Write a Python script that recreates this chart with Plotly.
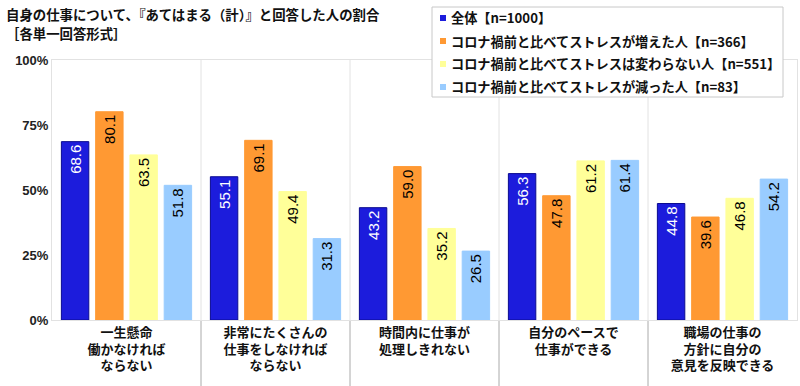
import plotly.graph_objects as go

categories = ["一生懸命<br>働かなければ<br>ならない", "非常にたくさんの<br>仕事をしなければ<br>ならない",
              "時間内に仕事が<br>処理しきれない", "自分のペースで<br>仕事ができる", "職場の仕事の<br>方針に自分の<br>意見を反映できる"]
series_names = ["全体【n=1000】", "コロナ禍前と比べてストレスが増えた人【n=366】",
                "コロナ禍前と比べてストレスは変わらない人【n=551】", "コロナ禍前と比べてストレスが減った人【n=83】"]
total = [68.6, 55.1, 43.2, 56.3, 44.8]
increased = [80.1, 69.1, 59.0, 47.8, 39.6]
unchanged = [63.5, 49.4, 35.2, 61.2, 46.8]
decreased = [51.8, 31.3, 26.5, 61.4, 54.2]
y_ticks = [0, 25, 50, 75, 100]
y_tick_labels = ["0%", "25%", "50%", "75%", "100%"]
title_lines = ["自身の仕事について、『あてはまる（計）』と回答した人の割合", "［各単一回答形式］"]

values = [total, increased, unchanged, decreased]
colors = ["#1c1cdc", "#ff9933", "#ffff99", "#99ccff"]
line_colors = ["#0a0a90", "#ff9933", "#ffff99", "#99ccff"]
text_colors = ["white", "black", "black", "black"]

FONT = "Noto Sans CJK JP"
W, H = 800, 386
L, R, T, B = 52, 3, 60, 66
pw, ph = W - L - R, H - T - B

def px(xp):
    return (xp - L) / pw

def py(yp):
    return (H - B - yp) / ph

fig = go.Figure()
for name, vals, c, lc, tc in zip(series_names, values, colors, line_colors, text_colors):
    fig.add_trace(go.Bar(
        x=list(range(len(categories))), y=vals, name=name,
        marker=dict(color=c, line=dict(color=lc, width=1)),
        text=[f"{v:.1f}" for v in vals], textposition="inside", insidetextanchor="end",
        textangle=-90, textfont=dict(family="Liberation Sans", size=15, color=tc),
        cliponaxis=False, showlegend=False,
    ))

shapes = []
n = len(categories)
for i in range(n - 1):
    xs = i + 0.5
    shapes.append(dict(type="line", xref="x", yref="paper", x0=xs, x1=xs, y0=0, y1=1,
                       line=dict(color="#e2e2e2", width=1), layer="below"))
    shapes.append(dict(type="line", xref="x", yref="paper", x0=xs, x1=xs, y0=-B / ph, y1=0,
                       line=dict(color="#aaaaaa", width=1), layer="below"))

# legend box
shapes.append(dict(type="rect", xref="paper", yref="paper", x0=px(432), x1=px(783), y0=py(97), y1=py(7),
                   fillcolor="white", line=dict(color="#c8c8c8", width=1), layer="above"))
annotations = []
rows = [18, 41, 64, 87]
for name, c, r in zip(series_names, colors, rows):
    shapes.append(dict(type="rect", xref="paper", yref="paper", x0=px(440), x1=px(446),
                       y0=py(r + 3), y1=py(r - 3), fillcolor=c, line=dict(width=0), layer="above"))
    annotations.append(dict(xref="paper", yref="paper", x=px(449), y=py(r), xanchor="left", yanchor="middle",
                            text=f"<b>{name}</b>", showarrow=False,
                            font=dict(family=FONT, size=13.2, color="#111")))

for line, yp in zip(title_lines, [14, 33]):
    annotations.append(dict(xref="paper", yref="paper", x=px(4), y=py(yp), xanchor="left", yanchor="middle",
                            text=f"<b>{line}</b>", showarrow=False,
                            font=dict(family=FONT, size=13.4, color="#111")))

fig.update_layout(
    width=W, height=H, margin=dict(l=L, r=R, t=T, b=B),
    paper_bgcolor="white", plot_bgcolor="white",
    barmode="group", bargap=0.08, bargroupgap=0.2,
    xaxis=dict(tickmode="array", tickvals=list(range(n)), ticktext=[f"<b>{c}</b>" for c in categories],
               range=[-0.5, n - 0.5], showline=True, linecolor="#e2e2e2", mirror=True, ticks="",
               tickfont=dict(family=FONT, size=13, color="#111"), showgrid=False, automargin=False),
    yaxis=dict(range=[0, 100], tickmode="array", tickvals=y_ticks, ticktext=[f"<b>{t}</b>" for t in y_tick_labels],
               showgrid=False, showline=True, linecolor="#e2e2e2", mirror=True, ticks="", zeroline=False,
               automargin=False, tickfont=dict(family="Liberation Sans", size=13, color="#222")),
    shapes=shapes, annotations=annotations,
)
fig.write_html("out.html", config={"displayModeBar": False},
               post_script=["document.body.style.margin='0px';"])
